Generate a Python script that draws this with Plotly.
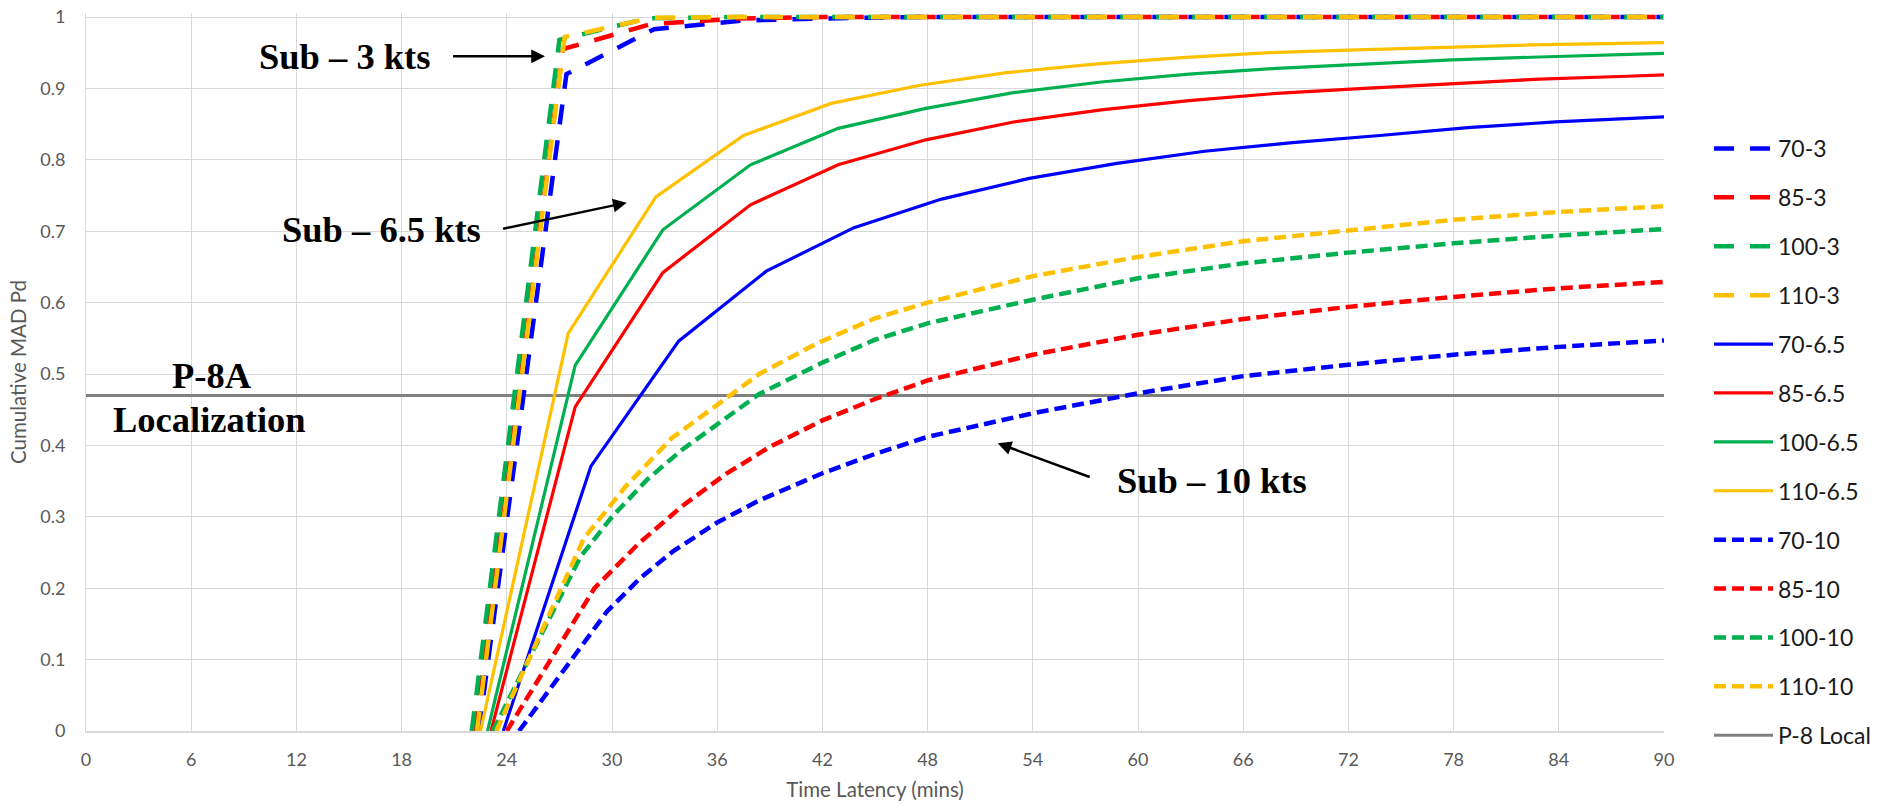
import plotly.graph_objects as go

# ---- data: time latency (mins) vs cumulative MAD Pd -------------------------
# Sub at 3 kts
t_70_3 = [22.4, 27.4, 32.4, 37.4, 42.4, 47.4, 90]
pd_70_3 = [0, 0.92, 0.983, 0.995, 0.998, 1.0, 1.0]
t_85_3 = [22.2, 27.2, 32.2, 37.2, 42.2, 90]
pd_85_3 = [0, 0.955, 0.99, 0.998, 1.0, 1.0]
t_100_3 = [22.0, 27.0, 32.0, 37.0, 90]
pd_100_3 = [0, 0.968, 0.998, 1.0, 1.0]
t_110_3 = [22.3, 27.3, 32.3, 37.3, 90]
pd_110_3 = [0, 0.972, 0.999, 1.0, 1.0]

# Sub at 6.5 kts
t_70_65 = [23.8, 28.8, 33.8, 38.8, 43.8, 48.8, 53.8, 58.8, 63.8, 68.8, 73.8, 78.8, 83.8, 88.8, 90]
pd_70_65 = [0, 0.371, 0.546, 0.644, 0.705, 0.745, 0.774, 0.795, 0.812, 0.824, 0.834, 0.845, 0.853, 0.858, 0.86]
t_85_65 = [23.1, 27.9, 32.9, 37.9, 42.9, 47.9, 52.9, 57.9, 62.9, 67.9, 72.9, 77.9, 82.9, 87.9, 90]
pd_85_65 = [0, 0.454, 0.642, 0.737, 0.793, 0.828, 0.853, 0.87, 0.883, 0.893, 0.9, 0.907, 0.913, 0.917, 0.919]
t_100_65 = [22.9, 27.9, 32.9, 37.9, 42.9, 47.9, 52.9, 57.9, 62.9, 67.9, 72.9, 77.9, 82.9, 87.9, 90]
pd_100_65 = [0, 0.512, 0.702, 0.793, 0.844, 0.872, 0.894, 0.909, 0.92, 0.928, 0.934, 0.94, 0.944, 0.948, 0.949]
t_110_65 = [22.5, 27.5, 32.5, 37.5, 42.5, 47.5, 52.5, 57.5, 62.5, 67.5, 72.5, 77.5, 82.5, 87.5, 90]
pd_110_65 = [0, 0.557, 0.748, 0.834, 0.879, 0.904, 0.922, 0.934, 0.943, 0.95, 0.954, 0.958, 0.961, 0.963, 0.964]

# Sub at 10 kts
t_70_10 = [24.7, 29.7, 31.6, 33.5, 36, 38.4, 42, 45, 48, 54, 60, 66, 72, 78, 84, 90]
pd_70_10 = [0, 0.167, 0.214, 0.252, 0.292, 0.323, 0.361, 0.388, 0.412, 0.445, 0.473, 0.497, 0.513, 0.527, 0.538, 0.547]
t_85_10 = [24.0, 29.0, 31.5, 34, 36.5, 39, 42, 45, 48, 54, 60, 66, 72, 78, 84, 90]
pd_85_10 = [0, 0.2, 0.262, 0.315, 0.36, 0.398, 0.435, 0.465, 0.491, 0.527, 0.555, 0.577, 0.594, 0.608, 0.62, 0.629]
t_100_10 = [23.2, 28.2, 30, 32, 34, 36, 38.4, 42, 45, 48, 54, 60, 66, 72, 78, 84, 90]
pd_100_10 = [0, 0.244, 0.3, 0.352, 0.394, 0.43, 0.472, 0.516, 0.548, 0.571, 0.604, 0.634, 0.655, 0.67, 0.683, 0.694, 0.703]
t_110_10 = [23.4, 28.4, 30.8, 33.4, 35.9, 38.4, 41.7, 45, 48, 54, 60, 66, 72, 78, 84, 90]
pd_110_10 = [0, 0.27, 0.343, 0.41, 0.455, 0.5, 0.543, 0.578, 0.6, 0.637, 0.664, 0.686, 0.701, 0.716, 0.727, 0.735]

# P-8A localization threshold
t_p8 = [0, 90]
pd_p8 = [0.47, 0.47]

x_ticks = list(range(0, 91, 6))
y_ticks = [round(0.1 * k, 1) for k in range(11)]
y_tick_text = ["0", "0.1", "0.2", "0.3", "0.4", "0.5", "0.6", "0.7", "0.8", "0.9", "1"]

BLUE, RED, GREEN, GOLD, GREY = "#0000FF", "#FF0000", "#00B050", "#FFC000", "#808080"
DASH_3 = "20px,16px"
DASH_10 = "12px,6px"

series = [
    ("70-3", t_70_3, pd_70_3, BLUE, DASH_3, 4.5),
    ("85-3", t_85_3, pd_85_3, RED, DASH_3, 4.5),
    ("100-3", t_100_3, pd_100_3, GREEN, DASH_3, 4.5),
    ("110-3", t_110_3, pd_110_3, GOLD, DASH_3, 4.5),
    ("70-6.5", t_70_65, pd_70_65, BLUE, "solid", 3.2),
    ("85-6.5", t_85_65, pd_85_65, RED, "solid", 3.2),
    ("100-6.5", t_100_65, pd_100_65, GREEN, "solid", 3.2),
    ("110-6.5", t_110_65, pd_110_65, GOLD, "solid", 3.2),
    ("70-10", t_70_10, pd_70_10, BLUE, DASH_10, 4.5),
    ("85-10", t_85_10, pd_85_10, RED, DASH_10, 4.5),
    ("100-10", t_100_10, pd_100_10, GREEN, DASH_10, 4.5),
    ("110-10", t_110_10, pd_110_10, GOLD, DASH_10, 4.5),
]

fig = go.Figure()

# threshold line sits underneath the curves but is listed last in the legend
fig.add_trace(go.Scatter(
    x=t_p8, y=pd_p8, mode="lines", name="P-8 Local",
    line=dict(color=GREY, width=3), legendrank=2000, legendgroup="p8",
))

for i, (name, xs, ys, color, dash, width) in enumerate(series):
    fig.add_trace(go.Scatter(
        x=xs, y=ys, mode="lines", name=name,
        line=dict(color=color, width=width, dash=dash),
        legendrank=100 + i, legendgroup=name,
    ))

label_font = dict(family="Liberation Serif", size=36.5, color="black")
arrow_style = dict(showarrow=True, arrowhead=2, arrowsize=1.1, arrowwidth=2.5,
                   arrowcolor="black", text="", xref="x", yref="y", axref="x", ayref="y")

annotations = [
    dict(x=14.77, y=0.945, text="<b>Sub – 3 kts</b>", showarrow=False, font=label_font),
    dict(x=26.18, y=0.945, ax=20.85, ay=0.945, **arrow_style),
    dict(x=16.86, y=0.703, text="<b>Sub – 6.5 kts</b>", showarrow=False, font=label_font),
    dict(x=30.84, y=0.740, ax=23.7, ay=0.703, **arrow_style),
    dict(x=64.2, y=0.351, text="<b>Sub – 10 kts</b>", showarrow=False, font=label_font),
    dict(x=52.0, y=0.403, ax=57.33, ay=0.355, **arrow_style),
    dict(x=7.19, y=0.4986, text="<b>P-8A</b>", showarrow=False, font=label_font),
    dict(x=7.07, y=0.4356, text="<b>Localization</b>", showarrow=False, font=label_font),
]

tick_font = dict(family="Lato", size=18, color="#595959")
title_font = dict(family="Lato", size=20.5, color="#595959")

# plot area: y = 1 sits 17 px from the top, with a little headroom so the
# lines running along 1.0 keep their full width
PLOT_TOP, PLOT_BOTTOM = 13, 73
y_top = (804 - PLOT_TOP - PLOT_BOTTOM) / 714

fig.update_layout(
    width=1877, height=804,
    margin=dict(l=86, r=213, t=PLOT_TOP, b=PLOT_BOTTOM, autoexpand=False),
    paper_bgcolor="white", plot_bgcolor="white",
    showlegend=True,
    legend=dict(
        x=(1709 - 86) / 1578, xanchor="left",
        y=(1 * 714 + 4 - 114) / (714 + 4), yanchor="top",
        font=dict(family="Lato", size=23, color="#1a1a1a"),
        itemwidth=59, tracegroupgap=16, bgcolor="rgba(0,0,0,0)",
    ),
    annotations=annotations,
    xaxis=dict(
        range=[0, 90], tickvals=x_ticks, showgrid=True, gridcolor="#D9D9D9", gridwidth=1,
        zeroline=False, showline=True, linecolor="#D9D9D9", linewidth=1.5,
        ticks="", tickfont=tick_font, ticklabelstandoff=12,
        title=dict(text="Time Latency (mins)", font=title_font, standoff=13),
    ),
    yaxis=dict(
        range=[0, y_top], tickvals=y_ticks, ticktext=y_tick_text,
        showgrid=True, gridcolor="#D9D9D9", gridwidth=1,
        zeroline=False, showline=True, linecolor="#D9D9D9", linewidth=1,
        ticks="", tickfont=tick_font, ticklabelstandoff=16,
        title=dict(text="Cumulative MAD Pd", font=title_font, standoff=8),
    ),
)

fig.write_html("out.html")
